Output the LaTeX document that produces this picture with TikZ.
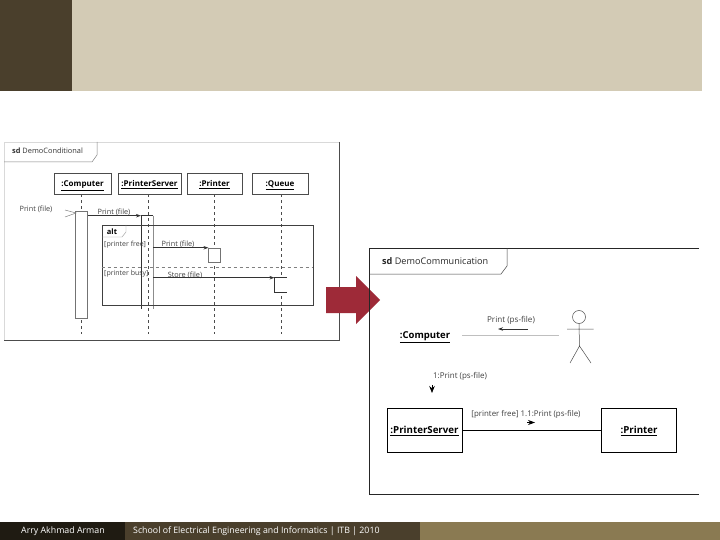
\documentclass[tikz,border=0pt]{standalone}
\usepackage{fontspec}
\setmainfont{Open Sans}
\usepackage{xcolor}
\usetikzlibrary{arrows.meta,positioning,calc,fit}
\definecolor{bandDark}{HTML}{4A3F2C}
\definecolor{bandLight}{HTML}{D3CBB5}
\definecolor{footBlack}{HTML}{1F1B12}
\definecolor{footTan}{HTML}{8A7A52}
\definecolor{redArrow}{HTML}{9E2A38}
\begin{document}
\begin{tikzpicture}[x=1pt,y=-1pt,>=Stealth,
  obj/.style={draw=black!70,line width=.6pt,minimum height=21pt,inner sep=0pt,text depth=0pt,font=\fontsize{8}{9}\selectfont\bfseries},
  bigobj/.style={draw=black,line width=.8pt,minimum width=75pt,minimum height=44pt,inner sep=0pt,text depth=0pt,font=\fontsize{9.7}{11}\selectfont\bfseries},
  act/.style={draw=black!55,fill=white,line width=.6pt,inner sep=0pt,minimum width=11.5pt},
  msg/.style={font=\fontsize{7.3}{8}\selectfont,text=black!75,inner sep=0pt},
  life/.style={dashed,black!70,line width=.5pt},
  call/.style={black!80,line width=.7pt,-{Stealth[length=5pt,width=3.5pt]}},
  foot/.style={text=white,inner sep=0pt,anchor=west,font=\fontsize{8.8}{10}\selectfont}]
\useasboundingbox (0,0) rectangle (720,540);
% header and footer bands
\fill[bandDark] (0,0) rectangle (72,91);
\fill[bandLight] (72,0) rectangle (702,91);
\fill[footBlack] (0,522) rectangle (125,540);
\fill[bandDark] (125,522) rectangle (420,540);
\fill[footTan] (420,522) rectangle (720,540);
\node[foot] (author) at (21,531) {Arry Akhmad Arman};
\node[foot] (school) at (133,531) {School of Electrical Engineering and Informatics | ITB | 2010};
% left frame
\draw[black!15,line width=.5pt] (339,142) -- (4,142) -- (4,340);
\draw[black!70,line width=.7pt] (339,142) -- (339,340) -- (4,340);
\draw[black!50,line width=.5pt] (4,162) -- (92,162) -- (97,155) -- (97,142);
\node[font=\fontsize{7.4}{8}\selectfont,text=black!80,anchor=west,inner sep=0pt] (sdCond) at (12,150.5) {\textbf{sd} DemoConditional};
\node[obj,minimum width=57pt] (comA) at (82.5,183.5) {\underline{:Computer}};
\node[obj,minimum width=63pt] (srvA) at (149.5,183.5) {\underline{:PrinterServer}};
\node[obj,minimum width=55pt] (prnA) at (214.5,183.5) {\underline{:Printer}};
\node[obj,minimum width=56pt] (queA) at (280,183.5) {\underline{:Queue}};
\coordinate (comEnd) at (81,334);
\coordinate (srvEnd) at (148,334);
\coordinate (prnEnd) at (214,334);
\coordinate (queEnd) at (281,334);
\draw[life] (comA.south -| comEnd) -- (comEnd);
\draw[life] (srvA.south -| srvEnd) -- (srvEnd);
\draw[life] (prnA.south -| prnEnd) -- (prnEnd);
\draw[life] (queA.south -| queEnd) -- (queEnd);
% activations
\node[act,minimum height=107pt] (comAct) at (81.5,264.5) {};
\node[act,draw=none,fill=none,minimum height=93pt] (srvAct) at (147,262.5) {};
\node[act,minimum height=14.5pt] (prnAct) at (214.5,255.3) {};
\node[act,draw=none,minimum height=14pt] (queAct) at (280.5,285) {};
\draw[black!80,line width=.6pt] (queAct.north east) -- (queAct.north west) -- (queAct.south west) -- (queAct.south east);
\draw[black!80,line width=.7pt] (srvAct.north east) -- (srvAct.north west) -- (srvAct.south west);
\draw[black!45,line width=.6pt] (srvAct.north east) -- (srvAct.south east);
% alt frame
\node[draw=black!75,line width=.6pt,minimum width=211pt,minimum height=80pt,inner sep=0pt] (altBox) at (207.5,265) {};
\draw[black!40,line width=.4pt] (102,237) -- (122,237) -- (126,232) -- (126,225);
\draw[black!50,dashed,line width=.5pt] (altBox.west) ++(0,2) -- ($(altBox.east)+(0,2)$);
\node[font=\fontsize{7.5}{8}\selectfont\bfseries,inner sep=0pt] (altTag) at (112,232) {alt};
\node[msg,anchor=west,font=\fontsize{7}{8}\selectfont] (grdFree) at (104,245) {[printer free]};
\node[msg,anchor=west,font=\fontsize{7}{8}\selectfont] (grdBusy) at (104,274) {[printer busy]};
% messages
\node[msg] (foundLbl) at (36,209.5) {Print (file)};
\coordinate (foundA) at (65,210);
\coordinate (foundB) at (76,213);
\coordinate (foundC) at (65,217);
\draw[black!50,line width=.5pt] (foundA) -- (foundB) -- (foundC);
\node[msg] (msgA) at (114,212) {Print (file)};
\draw[call] (comAct.east |- srvAct.north) -- (srvAct.north west);
\node[msg] (msgB) at (178,244) {Print (file)};
\draw[call] (srvAct.east |- prnAct.north) -- (prnAct.north west);
\node[msg] (msgC) at (185,275) {Store (file)};
\draw[call] (srvAct.east |- queAct.north) -- (queAct.north west);
% red arrow
\fill[redArrow] (326,287) -- (356,287) -- (356,276) -- (380,300) -- (356,324) -- (356,313) -- (326,313) -- cycle;
% right frame
\draw[black!85,line width=.7pt] (699,248) -- (369.5,248) -- (369.5,494) -- (699,494);
\draw[black!75,line width=.5pt] (369.5,274) -- (501,274) -- (507,266) -- (507,248);
\node[font=\fontsize{9.1}{10}\selectfont,text=black!85,anchor=west,inner sep=0pt] (sdComm) at (382,261) {\textbf{sd} DemoCommunication};
\node[inner sep=0pt,text depth=0pt,font=\fontsize{9.5}{11}\selectfont\bfseries] (comB) at (425,335) {\underline{:Computer}};
\coordinate (userL) at (559,335);
\draw[black!25,line width=.5pt] (462,335) -- (userL);
\node[msg,font=\fontsize{8.1}{9}\selectfont] (msgD) at (511,320.5) {Print (ps-file)};
\coordinate (msgDa) at (528,329);
\coordinate (msgDb) at (498,329);
\draw[call] (msgDa) -- (msgDb);
% actor
\node[draw=black!70,circle,line width=.5pt,minimum size=13pt,inner sep=0pt] (userHead) at (579,317) {};
\coordinate (armL) at (567,329);
\coordinate (armR) at (593.5,329);
\coordinate (hip) at (579.5,346);
\coordinate (legL) at (570,363);
\coordinate (legR) at (591,363);
\draw[black!70,line width=.5pt] (userHead.south) -- (hip) (armL) -- (armR) (legL) -- (hip) -- (legR);
% lower part
\node[msg,font=\fontsize{8}{9}\selectfont] (msgE) at (460,376) {1:Print (ps-file)};
\coordinate (downA) at (432,385);
\coordinate (downB) at (432,393);
\draw[black,line width=.7pt,-{Stealth[length=7pt,width=5.5pt]}] (downA) -- (downB);
\node[bigobj] (srvB) at (424.5,430) {\underline{:PrinterServer}};
\node[bigobj] (prnB) at (639,430) {\underline{:Printer}};
\draw[black,line width=.7pt] (srvB) -- (prnB);
\node[msg,font=\fontsize{7.9}{9}\selectfont] (msgF) at (526,414.5) {[printer free] 1.1:Print (ps-file)};
\coordinate (rightA) at (527,422.5);
\coordinate (rightB) at (535,422.5);
\draw[black,line width=.7pt,-{Stealth[length=7pt,width=5pt]}] (rightA) -- (rightB);
\end{tikzpicture}
\end{document}
